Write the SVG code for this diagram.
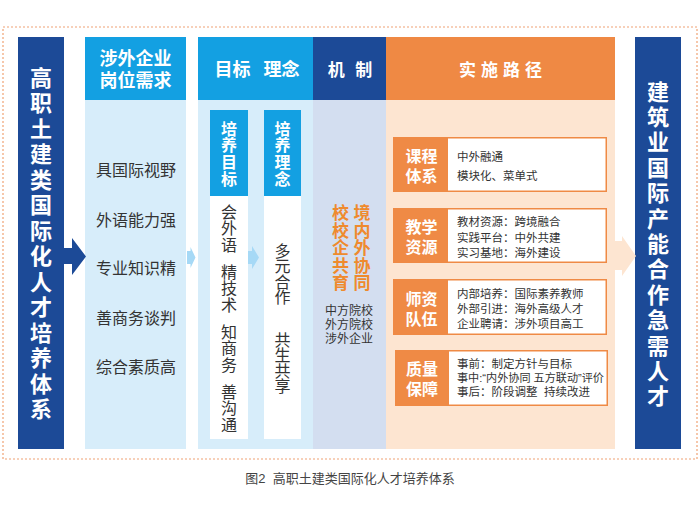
<svg xmlns="http://www.w3.org/2000/svg" width="700" height="512" viewBox="0 0 700 512">
<style>
text{font-family:"Liberation Sans","Noto Sans CJK SC","Noto Sans CJK JP",sans-serif;dominant-baseline:central}
.vt{font-size:22px;font-weight:bold;fill:#fff;text-anchor:middle}
.hd{font-size:18px;font-weight:bold;fill:#fff;text-anchor:middle}
.item{font-size:16px;fill:#333;text-anchor:middle}
.sub{font-size:16px;font-weight:bold;fill:#fff;text-anchor:middle}
.vbody{font-size:16px;fill:#333;text-anchor:middle}
.org{font-size:17px;font-weight:bold;fill:#ef8a2d;text-anchor:middle}
.sm{font-size:12px;fill:#333;text-anchor:middle}
.lbl{font-size:16px;font-weight:bold;fill:#fff;text-anchor:middle}
.bt{font-size:11.5px;fill:#333}
.box{fill:#fff;stroke:#ef8a45;stroke-width:1.5}
.lab{fill:#ef8a45}
.dark{fill:#1c4a97}
.bright{fill:#13a0e2}
.lblue{fill:#d7edfa}
</style>
<rect x="0" y="0" width="700" height="512" fill="#fff"/>
<rect x="3" y="27" width="694" height="432" fill="none" stroke="#f0a274" stroke-width="1.2" stroke-dasharray="2 2"/>

<g id="node-left">
<rect class="dark" x="18" y="37" width="46" height="412"/>
<text class="vt" x="41 41 41 41 41 41 41 41 41 41 41 41 41 41" y="78 103.5 129 154.5 180 205.5 231 256.5 282 307.5 333 358.5 384 409.5">高职土建类国际化人才培养体系</text>
</g>

<g id="node-demand">
<rect class="bright" x="85" y="37" width="101" height="63"/>
<rect class="lblue" x="85" y="100" width="101" height="349"/>
<text class="hd" x="135.5" y="59">涉外企业</text>
<text class="hd" x="135.5" y="81">岗位需求</text>
<text class="item" x="136" y="170">具国际视野</text>
<text class="item" x="136" y="220">外语能力强</text>
<text class="item" x="136" y="268">专业知识精</text>
<text class="item" x="136" y="318">善商务谈判</text>
<text class="item" x="136" y="367">综合素质高</text>
</g>

<g id="node-goal-idea">
<rect class="bright" x="198" y="37" width="115" height="63"/>
<rect class="lblue" x="198" y="100" width="115" height="349"/>
<text class="hd" x="257" y="70" style="word-spacing:8px">目标 理念</text>
<g id="node-goal">
<rect class="bright" x="210" y="110" width="38" height="86"/>
<rect fill="#fff" x="210" y="196" width="38" height="243"/>
<text class="sub" x="229 229 229 229" y="129 145.7 162.3 179">培养目标</text>
<text class="vbody" x="229 229 229 229 229 229 229 229 229 229 229 229 229 229 229" y="212 228.5 245 258 272 288.5 305 318 332 348.5 365 378 392 408.5 425">会外语 精技术 知商务 善沟通</text>
</g>
<g id="node-idea">
<rect class="bright" x="264" y="110" width="37" height="86"/>
<rect fill="#fff" x="264" y="196" width="37" height="243"/>
<text class="sub" x="282.5 282.5 282.5 282.5" y="129 145.7 162.3 179">培养理念</text>
<text class="vbody" x="282.5 282.5 282.5 282.5 282.5 282.5 282.5 282.5 282.5" y="251 266.5 282 297.5 318 340 355.5 371 386.5">多元合作 共生共享</text>
</g>
</g>

<g id="node-mechanism">
<rect class="dark" x="313" y="37" width="73" height="63"/>
<rect fill="#d3def0" x="313" y="100" width="73" height="349"/>
<text class="hd" x="350" y="70" style="font-size:17px;word-spacing:6px">机 制</text>
<text class="org" x="362 362 362 362 362" y="213.5 231 248.5 266 283">境内外协同</text>
<text class="org" x="340.5 340.5 340.5 340.5 340.5" y="213.5 231 248.5 266 283">校校企共育</text>
<text class="sm" x="349" y="311">中方院校</text>
<text class="sm" x="349" y="325">外方院校</text>
<text class="sm" x="349" y="339">涉外企业</text>
</g>

<g id="node-path">
<rect fill="#ef8944" x="386" y="37" width="229" height="63"/>
<rect fill="#fde5d1" x="386" y="100" width="229" height="349"/>
<text class="hd" x="503" y="70" style="font-size:17px;letter-spacing:5px">实施路径</text>

<g id="box-course">
<rect class="box" x="393.75" y="137.75" width="212.5" height="53.5"/>
<rect class="lab" x="393" y="137" width="55" height="55"/>
<text class="lbl" x="421.5" y="156">课程</text>
<text class="lbl" x="421.5" y="176">体系</text>
<text class="bt" x="457" y="157">中外融通</text>
<text class="bt" x="457" y="176">模块化、菜单式</text>
</g>

<g id="box-resource">
<rect class="box" x="393.75" y="208.75" width="212.5" height="53.5"/>
<rect class="lab" x="393" y="208" width="55" height="55"/>
<text class="lbl" x="421.5" y="227">教学</text>
<text class="lbl" x="421.5" y="247">资源</text>
<text class="bt" x="457" y="222">教材资源：跨境融合</text>
<text class="bt" x="457" y="237.5">实践平台：中外共建</text>
<text class="bt" x="457" y="252.5">实习基地：海外建设</text>
</g>

<g id="box-teacher">
<rect class="box" x="393.75" y="279.75" width="212.5" height="54.5"/>
<rect class="lab" x="393" y="279" width="55" height="56"/>
<text class="lbl" x="421.5" y="299">师资</text>
<text class="lbl" x="421.5" y="319">队伍</text>
<text class="bt" x="457" y="294">内部培养：国际素养教师</text>
<text class="bt" x="457" y="309">外部引进：海外高级人才</text>
<text class="bt" x="457" y="324">企业聘请：涉外项目高工</text>
</g>

<g id="box-quality">
<rect class="box" x="395.75" y="350.75" width="211.5" height="54.5"/>
<rect class="lab" x="395" y="350" width="54" height="56"/>
<text class="lbl" x="422" y="369">质量</text>
<text class="lbl" x="422" y="389">保障</text>
<text class="bt" x="457" y="364">事前：制定方针与目标</text>
<text class="bt" x="457" y="378" textLength="147" lengthAdjust="spacingAndGlyphs">事中:“内外协同 五方联动”评价</text>
<text class="bt" x="457" y="392" style="white-space:pre">事后：阶段调整  持续改进</text>
</g>
</g>

<g id="node-right">
<rect class="dark" x="635" y="37" width="46" height="412"/>
<text class="vt" x="658 658 658 658 658 658 658 658 658 658 658 658 658" y="92 117.4 142.8 168.2 193.6 219 244.4 269.8 295.2 320.6 346 371.4 396.8">建筑业国际产能合作急需人才</text>
</g>

<g id="connectors">
<polygon class="dark" points="63,248 72,248 72,238 86,256.5 72,275 72,264 63,264"/>
<polygon fill="#a6d9f6" points="187,251 190.5,251 190.5,247 195.5,257.5 190.5,268 190.5,264 187,264"/>
<polygon fill="#a6d9f6" points="248,251 252,251 252,246 259,257.5 252,269 252,264 248,264"/>
<polygon fill="#fde5d1" points="614,241 622,241 622,236 636,256 622,276 622,270 614,270"/>
</g>

<text x="350" y="478" style="font-size:13px;fill:#444;text-anchor:middle;white-space:pre">图2  高职土建类国际化人才培养体系</text>
</svg>
